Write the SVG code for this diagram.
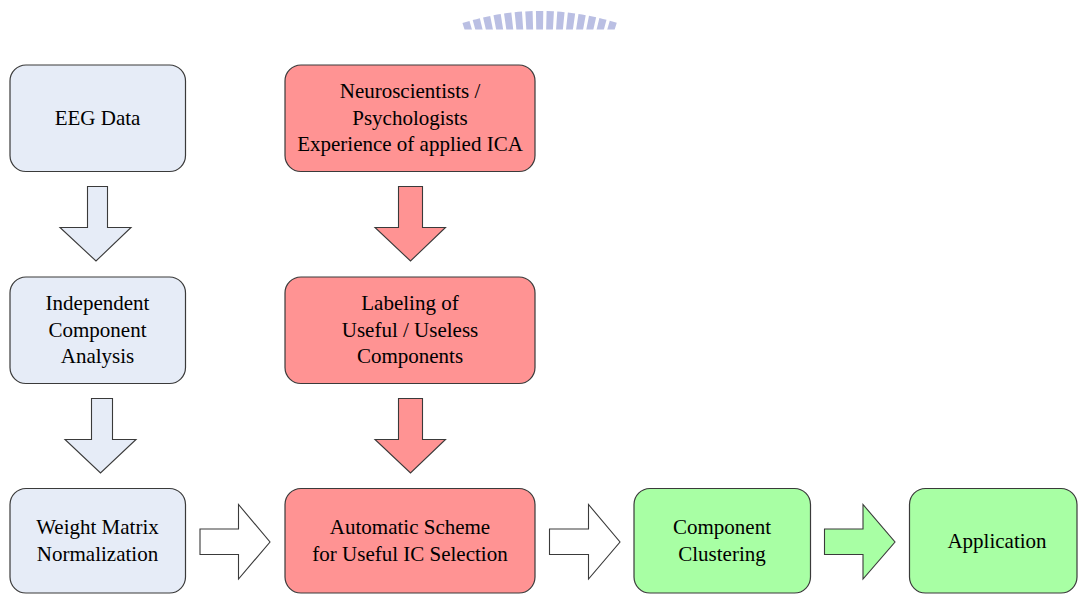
<svg xmlns="http://www.w3.org/2000/svg" width="1078" height="594" viewBox="0 0 1078 594">
  <style>
    .box { stroke: #3a3a3a; stroke-width: 1.2; }
    .blue { fill: #E6ECF7; }
    .red { fill: #FF9393; }
    .green { fill: #A8FFA4; }
    .white { fill: #FFFFFF; }
    .arrow { stroke: #3a3a3a; stroke-width: 1.1; stroke-linejoin: miter; }
    .label { font-family: "Liberation Serif", "Times New Roman", serif; font-size: 21px; fill: #000000; text-anchor: middle; }
  </style>
  <defs>
    <clipPath id="wmclip">
      <rect x="462" y="0" width="156" height="29.5"/>
    </clipPath>
  </defs>
  <rect width="1078" height="594" fill="#FFFFFF"/>

  <!-- faded logo fragment at top -->
  <g id="watermark" clip-path="url(#wmclip)" opacity="0.75">
    <path d="M 430 48.3 A 243 243 0 0 1 650 48.3" fill="none" stroke="#A3A9DA" stroke-width="22" stroke-dasharray="7 3.2" stroke-dashoffset="2"/>
  </g>

  <!-- nodes -->
  <g id="eeg-data">
    <rect class="box blue" x="10" y="65" width="175.5" height="106.5" rx="16" ry="16"/>
    <text class="label" x="97.5" y="125">EEG Data</text>
  </g>
  <g id="ica">
    <rect class="box blue" x="10" y="277" width="175.5" height="106.5" rx="16" ry="16"/>
    <text class="label" x="97.5" y="310"><tspan x="97.5">Independent</tspan><tspan x="97.5" dy="26.7">Component</tspan><tspan x="97.5" dy="26.7">Analysis</tspan></text>
  </g>
  <g id="weight-matrix">
    <rect class="box blue" x="10" y="488.5" width="175.5" height="104.5" rx="16" ry="16"/>
    <text class="label" x="97.5" y="534"><tspan x="97.5">Weight Matrix</tspan><tspan x="97.5" dy="26.7">Normalization</tspan></text>
  </g>
  <g id="experts">
    <rect class="box red" x="285" y="65" width="250" height="106.5" rx="16" ry="16"/>
    <text class="label" x="410" y="98"><tspan x="410">Neuroscientists /</tspan><tspan x="410" dy="26.7">Psychologists</tspan><tspan x="410" dy="26.7">Experience of applied ICA</tspan></text>
  </g>
  <g id="labeling">
    <rect class="box red" x="285" y="277" width="250" height="106.5" rx="16" ry="16"/>
    <text class="label" x="410" y="310"><tspan x="410">Labeling of</tspan><tspan x="410" dy="26.7">Useful / Useless</tspan><tspan x="410" dy="26.7">Components</tspan></text>
  </g>
  <g id="automatic-scheme">
    <rect class="box red" x="285" y="488.5" width="250" height="104.5" rx="16" ry="16"/>
    <text class="label" x="410" y="534"><tspan x="410">Automatic Scheme</tspan><tspan x="410" dy="26.7">for Useful IC Selection</tspan></text>
  </g>
  <g id="component-clustering">
    <rect class="box green" x="634" y="488.5" width="176.5" height="104.5" rx="16" ry="16"/>
    <text class="label" x="722" y="534"><tspan x="722">Component</tspan><tspan x="722" dy="26.7">Clustering</tspan></text>
  </g>
  <g id="application">
    <rect class="box green" x="909.5" y="488.5" width="167.5" height="104.5" rx="16" ry="16"/>
    <text class="label" x="997" y="548">Application</text>
  </g>

  <!-- connectors (block arrows) -->
  <g id="connectors">
    <polygon class="arrow blue" points="87.5,186.5 107.5,186.5 107.5,227.5 131,227.5 96,261 60,227.5 87.5,227.5"/>
    <polygon class="arrow blue" points="91.5,398.5 112.5,398.5 112.5,439.5 136,439.5 100.5,473 65,439.5 91.5,439.5"/>
    <polygon class="arrow red" points="398.5,186.5 422.5,186.5 422.5,227.5 445.5,227.5 410.5,261 375,227.5 398.5,227.5"/>
    <polygon class="arrow red" points="398.5,398.5 422.5,398.5 422.5,439.5 445.5,439.5 410.5,473 375,439.5 398.5,439.5"/>
    <polygon class="arrow white" points="200,529 238.5,529 238.5,504.5 270,542 238.5,579 238.5,554.5 200,554.5"/>
    <polygon class="arrow white" points="549.5,529 588.5,529 588.5,504.5 620,542 588.5,579 588.5,554.5 549.5,554.5"/>
    <polygon class="arrow green" points="824.5,529 863,529 863,504.5 895,542 863,579 863,554.5 824.5,554.5"/>
  </g>
</svg>
